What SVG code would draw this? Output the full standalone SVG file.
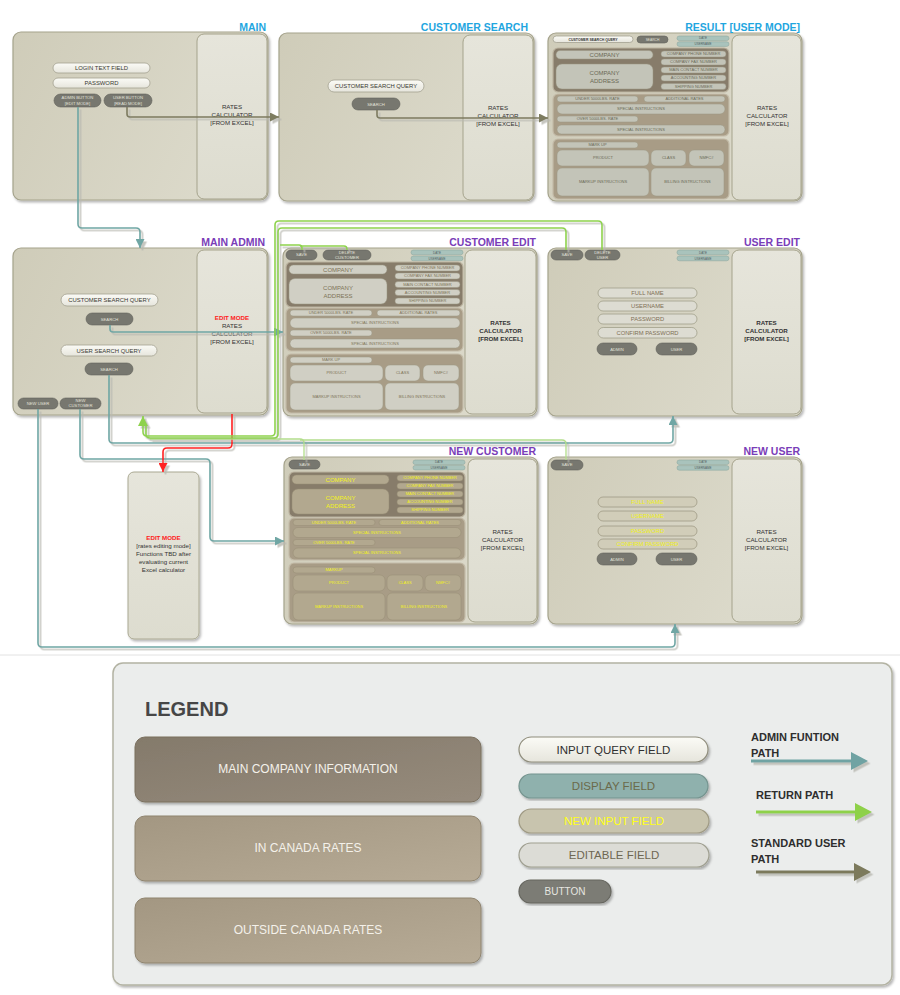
<svg xmlns="http://www.w3.org/2000/svg" width="900" height="995" viewBox="0 0 900 995">
<defs>
<style>
text{font-family:"Liberation Sans",Arial,sans-serif}
.pn{fill:url(#gP);stroke:#a5a38c;stroke-width:1.2;filter:url(#sh)}
.cl{fill:url(#gC);stroke:#a5a38c;stroke-width:1}
.q{fill:url(#gQ);stroke:#a3a190;stroke-width:.8}
.b{fill:#77776f;stroke:#62625a;stroke-width:.6}
.d{fill:#a9c3bc;stroke:#86a39b;stroke-width:.5}
.e{fill:#dddcd2;stroke:#a19f8a;stroke-width:.8}
.s1{fill:#877c6a;stroke:#bcb4a0;stroke-width:1.2}
.s2{fill:#a89c86;stroke:#c4bca9;stroke-width:1.2}
.rf{fill:#c3c4b8;stroke:#9a9782;stroke-width:.5}
.ef{fill:#d0cfc4;stroke:#9a9782;stroke-width:.5}
.nf{fill:#b2a88f;stroke:#978d75;stroke-width:.5}
.nu{fill:#d1cdb9;stroke:#9f9b85;stroke-width:.8}
.tt{font-size:10.5px;font-weight:bold;text-anchor:end}
.cy{fill:#1fa6e0}
.pu{fill:#7a3db8}
.ct{font-size:6.2px;fill:#333;text-anchor:middle}
.ctb{font-size:6.2px;fill:#333;text-anchor:middle;font-weight:bold}
.em{font-size:6.2px;fill:#ff2020;text-anchor:middle;font-weight:bold}
.qt{font-size:5.9px;fill:#3a3a34;text-anchor:middle}
.bt{font-size:4.2px;fill:#e2e2da;text-anchor:middle}
.dt{font-size:3px;fill:#52605c;text-anchor:middle}
.ft{font-size:4px;fill:#6a6955;text-anchor:middle}
.fb{font-size:6px;fill:#6a6955;text-anchor:middle}
.et{font-size:4px;fill:#7d7357;text-anchor:middle}
.eb{font-size:6px;fill:#7d7357;text-anchor:middle}
.nt{font-size:4px;fill:#f2f21a;text-anchor:middle}
.nb{font-size:6px;fill:#f2f21a;text-anchor:middle}
.ut{font-size:5.8px;fill:#7d7055;text-anchor:middle}
.yt{font-size:5.8px;fill:#f0f020;text-anchor:middle}
.cn{fill:none;stroke-width:1.6;stroke-linejoin:round}
.tl{stroke:#6fa6a4}
.ol{stroke:#7d7b60}
.rd{stroke:#ff2424}
.gr{stroke:#8ed24e}
.gl{stroke:#b3dd8c;stroke-width:1.3}
.lb{font-size:12px;fill:#f4f1ea;text-anchor:middle}
.lf{font-size:11.5px;text-anchor:middle}
.la{font-size:11px;font-weight:bold;fill:#2e2e2e}
</style>
<linearGradient id="gP" x1="0" y1="0" x2="1" y2="0.3"><stop offset="0" stop-color="#cfccb9"/><stop offset="1" stop-color="#dcdacb"/></linearGradient>
<linearGradient id="gC" x1="0" y1="0" x2="0" y2="1"><stop offset="0" stop-color="#e6e5db"/><stop offset="1" stop-color="#dddccf"/></linearGradient>
<linearGradient id="gQ" x1="0" y1="0" x2="0" y2="1"><stop offset="0" stop-color="#fbfbf6"/><stop offset="1" stop-color="#e6e5dc"/></linearGradient>
<linearGradient id="gM" x1="0" y1="0" x2="1" y2="1"><stop offset="0" stop-color="#847a6b"/><stop offset="1" stop-color="#968b7c"/></linearGradient>
<linearGradient id="gR" x1="0" y1="0" x2="1" y2="1"><stop offset="0" stop-color="#a39782"/><stop offset="1" stop-color="#b7ab96"/></linearGradient>
<filter id="sh" x="-5%" y="-5%" width="115%" height="115%"><feDropShadow dx="1.5" dy="2" stdDeviation="1.2" flood-color="#000" flood-opacity=".28"/></filter>
<filter id="ls" filterUnits="userSpaceOnUse" x="0" y="0" width="900" height="995"><feDropShadow dx="2.5" dy="2.5" stdDeviation="0.4" flood-color="#b8b8b0" flood-opacity=".8"/></filter>
<marker id="aT" viewBox="0 0 10 10" refX="10" refY="5" markerWidth="10" markerHeight="9" markerUnits="userSpaceOnUse" orient="auto"><path d="M0,0 L10,5 L0,10 z" fill="#6fa6a4"/></marker>
<marker id="aO" viewBox="0 0 10 10" refX="10" refY="5" markerWidth="10" markerHeight="9" markerUnits="userSpaceOnUse" orient="auto"><path d="M0,0 L10,5 L0,10 z" fill="#7d7b60"/></marker>
<marker id="aR" viewBox="0 0 10 10" refX="10" refY="5" markerWidth="10" markerHeight="9" markerUnits="userSpaceOnUse" orient="auto"><path d="M0,0 L10,5 L0,10 z" fill="#ff2424"/></marker>
<marker id="aG" viewBox="0 0 10 10" refX="10" refY="5" markerWidth="11" markerHeight="10" markerUnits="userSpaceOnUse" orient="auto"><path d="M0,0 L10,5 L0,10 z" fill="#8ed24e"/></marker>
</defs>
<rect width="900" height="995" fill="#fff"/>
<line x1="0" y1="655" x2="900" y2="655" stroke="#e2e2e2" stroke-width="1"/>

<g id="main">
<rect class="pn" x="13" y="32" width="255" height="168" rx="8"/>
<rect class="cl" x="197" y="34" width="70" height="165" rx="7"/>
<text class="ct" x="232" y="109">RATES</text>
<text class="ct" x="232" y="117">CALCULATOR</text>
<text class="ct" x="232" y="125">[FROM EXCEL]</text>
<rect class="q" x="53" y="63" width="97" height="10" rx="5"/>
<text class="qt" x="101.5" y="70.1">LOGIN TEXT FIELD</text>
<rect class="q" x="53" y="78" width="97" height="10" rx="5"/>
<text class="qt" x="101.5" y="85.1">PASSWORD</text>
<rect class="b" x="54" y="94" width="47" height="13" rx="6.5"/>
<text class="bt" x="77.5" y="99.3">ADMIN BUTTON</text>
<text class="bt" x="77.5" y="104.5">[EDIT MODE]</text>
<rect class="b" x="104" y="94" width="48" height="13" rx="6.5"/>
<text class="bt" x="128" y="99.3">USER BUTTON</text>
<text class="bt" x="128" y="104.5">[READ MODE]</text>
<text class="tt cy" x="266" y="31">MAIN</text>
</g>

<g id="customer-search">
<rect class="pn" x="279" y="33" width="255" height="168" rx="8"/>
<rect class="cl" x="463" y="35" width="70" height="165" rx="7"/>
<text class="ct" x="498" y="110">RATES</text>
<text class="ct" x="498" y="118">CALCULATOR</text>
<text class="ct" x="498" y="126">[FROM EXCEL]</text>
<rect class="q" x="328" y="80" width="96" height="12" rx="6"/>
<text class="qt" x="376" y="88.1">CUSTOMER SEARCH QUERY</text>
<rect class="b" x="352" y="98" width="48" height="12" rx="6"/>
<text class="bt" x="376" y="105.5">SEARCH</text>
<text class="tt cy" x="528" y="31">CUSTOMER SEARCH</text>
</g>

<g id="result-user-mode">
<rect class="pn" x="548" y="33" width="254" height="168" rx="8"/>
<rect class="cl" x="732" y="35" width="69" height="165" rx="7"/>
<text class="ct" x="767" y="110">RATES</text>
<text class="ct" x="767" y="118">CALCULATOR</text>
<text class="ct" x="767" y="126">[FROM EXCEL]</text>
<rect class="q" x="553" y="36" width="80" height="6.5" rx="3.25"/>
<text x="593" y="40.6" font-size="3.5" fill="#333" text-anchor="middle" font-weight="bold">CUSTOMER SEARCH QUERY</text>
<rect class="b" x="637" y="36" width="31" height="7" rx="3.5"/>
<text x="652.5" y="40.7" font-size="3.3" fill="#e2e2da" text-anchor="middle">SEARCH</text>
<rect class="d" x="677" y="36" width="52" height="4.6" rx="2.3"/>
<text class="dt" x="703" y="39.4">DATE</text>
<rect class="d" x="677" y="41.8" width="52" height="4.6" rx="2.3"/>
<text class="dt" x="703" y="45.2">USERNAME</text>
<rect class="s1" x="553" y="48" width="176" height="44" rx="5"/>
<rect class="rf" x="556" y="50.5" width="97" height="8.5" rx="4.25"/>
<text class="fb" x="604.5" y="56.9">COMPANY</text>
<rect class="rf" x="556" y="64" width="97" height="25" rx="6"/>
<text class="fb" x="604.5" y="74.5">COMPANY</text>
<text class="fb" x="604.5" y="82.5">ADDRESS</text>
<rect class="rf" x="661" y="51" width="65" height="6" rx="3"/>
<text class="ft" x="693.5" y="55.4">COMPANY PHONE NUMBER</text>
<rect class="rf" x="661" y="59" width="65" height="6" rx="3"/>
<text class="ft" x="693.5" y="63.4">COMPANY FAX NUMBER</text>
<rect class="rf" x="661" y="67" width="65" height="6" rx="3"/>
<text class="ft" x="693.5" y="71.4">MAIN CONTACT NUMBER</text>
<rect class="rf" x="661" y="75" width="65" height="6" rx="3"/>
<text class="ft" x="693.5" y="79.4">ACCOUNTING NUMBER</text>
<rect class="rf" x="661" y="83.5" width="65" height="6" rx="3"/>
<text class="ft" x="693.5" y="87.9">SHIPPING NUMBER</text>
<rect class="s2" x="553" y="94" width="176" height="42" rx="5"/>
<rect class="rf" x="557" y="96" width="81" height="6" rx="3"/>
<text class="ft" x="597.5" y="100.4">UNDER 5000LBS. RATE</text>
<rect class="rf" x="644" y="96" width="81" height="6" rx="3"/>
<text class="ft" x="684.5" y="100.4">ADDITIONAL RATES</text>
<rect class="rf" x="557" y="104" width="168" height="10" rx="5"/>
<text class="ft" x="641" y="110.4">SPECIAL INSTRUCTIONS</text>
<rect class="rf" x="557" y="116" width="81" height="6" rx="3"/>
<text class="ft" x="597.5" y="120.4">OVER 5000LBS. RATE</text>
<rect class="rf" x="557" y="125" width="168" height="9" rx="4.5"/>
<text class="ft" x="641" y="130.9">SPECIAL INSTRUCTIONS</text>
<rect class="s2" x="553" y="139" width="176" height="60" rx="5"/>
<rect class="rf" x="557" y="142" width="81" height="6" rx="3"/>
<text class="ft" x="597.5" y="146.4">MARK UP</text>
<rect class="rf" x="557" y="150" width="92" height="16" rx="5"/>
<text class="ft" x="603" y="159.4">PRODUCT</text>
<rect class="rf" x="651" y="150" width="35" height="16" rx="5"/>
<text class="ft" x="668.5" y="159.4">CLASS</text>
<rect class="rf" x="689" y="150" width="35" height="16" rx="5"/>
<text class="ft" x="706.5" y="159.4">NMFC#</text>
<rect class="rf" x="557" y="168" width="92" height="28" rx="5"/>
<text class="ft" x="603" y="183.4">MARKUP INSTRUCTIONS</text>
<rect class="rf" x="651" y="168" width="73" height="28" rx="5"/>
<text class="ft" x="687.5" y="183.4">BILLING INSTRUCTIONS</text>
<text class="tt cy" x="800" y="31">RESULT [USER MODE]</text>
</g>

<g id="main-admin">
<rect class="pn" x="13" y="248" width="255" height="167" rx="8"/>
<rect class="cl" x="197" y="250" width="70" height="163" rx="7"/>
<text class="em" x="232" y="320">EDIT MODE</text>
<text class="ct" x="232" y="328">RATES</text>
<text class="ct" x="232" y="336">CALCULATOR</text>
<text class="ct" x="232" y="344">[FROM EXCEL]</text>
<rect class="q" x="61" y="294" width="97" height="12" rx="6"/>
<text class="qt" x="109.5" y="302.1">CUSTOMER SEARCH QUERY</text>
<rect class="b" x="86" y="313" width="47" height="12" rx="6"/>
<text class="bt" x="109.5" y="320.5">SEARCH</text>
<rect class="q" x="61" y="345" width="96" height="11" rx="5.5"/>
<text class="qt" x="109" y="352.6">USER SEARCH QUERY</text>
<rect class="b" x="85" y="363" width="48" height="12" rx="6"/>
<text class="bt" x="109" y="370.5">SEARCH</text>
<rect class="b" x="18" y="398" width="40" height="11" rx="5.5"/>
<text class="bt" x="38" y="405">NEW USER</text>
<rect class="b" x="60" y="398" width="41" height="11" rx="5.5"/>
<text class="bt" x="80.5" y="402.4">NEW</text>
<text class="bt" x="80.5" y="407.4">CUSTOMER</text>
<text class="tt pu" x="265" y="246">MAIN ADMIN</text>
</g>

<g id="customer-edit">
<rect class="pn" x="283" y="248" width="254" height="168" rx="8"/>
<rect class="cl" x="465" y="250" width="71" height="164" rx="7"/>
<text class="ctb" x="500.5" y="325">RATES</text>
<text class="ctb" x="500.5" y="333">CALCULATOR</text>
<text class="ctb" x="500.5" y="341">[FROM EXCEL]</text>
<rect class="b" x="286" y="250" width="31" height="10" rx="5"/>
<text class="bt" x="301.5" y="256.4">SAVE</text>
<rect class="b" x="323" y="250" width="48" height="10" rx="5"/>
<text class="bt" x="347" y="254.3" font-size="3.8">DELETE</text>
<text class="bt" x="347" y="258.9" font-size="3.8">CUSTOMER</text>
<rect class="d" x="411" y="250" width="52" height="4.8" rx="2.4"/>
<text class="dt" x="437" y="253.5">DATE</text>
<rect class="d" x="411" y="256" width="52" height="4.8" rx="2.4"/>
<text class="dt" x="437" y="259.5">USERNAME</text>
<rect class="s1" x="286" y="262" width="177" height="45" rx="5"/>
<rect class="ef" x="289" y="265" width="98" height="9" rx="4.5"/>
<text class="eb" x="338" y="271.6">COMPANY</text>
<rect class="ef" x="289" y="278.5" width="98" height="25.5" rx="6"/>
<text class="eb" x="338" y="289.5">COMPANY</text>
<text class="eb" x="338" y="297.5">ADDRESS</text>
<rect class="ef" x="395" y="265" width="65" height="6" rx="3"/>
<text class="et" x="427.5" y="269.4">COMPANY PHONE NUMBER</text>
<rect class="ef" x="395" y="273" width="65" height="6" rx="3"/>
<text class="et" x="427.5" y="277.4">COMPANY FAX NUMBER</text>
<rect class="ef" x="395" y="281.5" width="65" height="6" rx="3"/>
<text class="et" x="427.5" y="285.9">MAIN CONTACT NUMBER</text>
<rect class="ef" x="395" y="289.5" width="65" height="6" rx="3"/>
<text class="et" x="427.5" y="293.9">ACCOUNTING NUMBER</text>
<rect class="ef" x="395" y="298" width="65" height="6" rx="3"/>
<text class="et" x="427.5" y="302.4">SHIPPING NUMBER</text>
<rect class="s2" x="286" y="308" width="177" height="43" rx="5"/>
<rect class="ef" x="290" y="310" width="82" height="6" rx="3"/>
<text class="et" x="331" y="314.4">UNDER 5000LBS. RATE</text>
<rect class="ef" x="377" y="310" width="83" height="6" rx="3"/>
<text class="et" x="418.5" y="314.4">ADDITIONAL RATES</text>
<rect class="ef" x="290" y="318" width="170" height="10" rx="5"/>
<text class="et" x="375" y="324.4">SPECIAL INSTRUCTIONS</text>
<rect class="ef" x="290" y="330" width="82" height="6" rx="3"/>
<text class="et" x="331" y="334.4">OVER 5000LBS. RATE</text>
<rect class="ef" x="290" y="339" width="170" height="9" rx="4.5"/>
<text class="et" x="375" y="344.9">SPECIAL INSTRUCTIONS</text>
<rect class="s2" x="286" y="354" width="177" height="59" rx="5"/>
<rect class="ef" x="290" y="357" width="82" height="6" rx="3"/>
<text class="et" x="331" y="361.4">MARK UP</text>
<rect class="ef" x="290" y="365" width="93" height="16" rx="5"/>
<text class="et" x="336.5" y="374.4">PRODUCT</text>
<rect class="ef" x="385" y="365" width="35" height="16" rx="5"/>
<text class="et" x="402.5" y="374.4">CLASS</text>
<rect class="ef" x="423" y="365" width="36" height="16" rx="5"/>
<text class="et" x="441" y="374.4">NMFC#</text>
<rect class="ef" x="290" y="383" width="93" height="27" rx="5"/>
<text class="et" x="336.5" y="397.9">MARKUP INSTRUCTIONS</text>
<rect class="ef" x="385" y="383" width="74" height="27" rx="5"/>
<text class="et" x="422" y="397.9">BILLING INSTRUCTIONS</text>
<text class="tt pu" x="536" y="246">CUSTOMER EDIT</text>
</g>

<g id="user-edit">
<rect class="pn" x="548" y="248" width="254" height="168" rx="8"/>
<rect class="cl" x="732" y="250" width="69" height="164" rx="7"/>
<text class="ctb" x="766.5" y="325">RATES</text>
<text class="ctb" x="766.5" y="333">CALCULATOR</text>
<text class="ctb" x="766.5" y="341">[FROM EXCEL]</text>
<rect class="b" x="551" y="250" width="32" height="10" rx="5"/>
<text class="bt" x="567" y="256.4">SAVE</text>
<rect class="b" x="585" y="250" width="35" height="10" rx="5"/>
<text class="bt" x="602.5" y="254.3" font-size="3.8">DELETE</text>
<text class="bt" x="602.5" y="258.9" font-size="3.8">USER</text>
<rect class="d" x="677" y="250" width="52" height="4.8" rx="2.4"/>
<text class="dt" x="703" y="253.5">DATE</text>
<rect class="d" x="677" y="256" width="52" height="4.8" rx="2.4"/>
<text class="dt" x="703" y="259.5">USERNAME</text>
<rect class="e" x="598" y="288" width="99" height="10" rx="5"/>
<text class="ut" x="647.5" y="295.1">FULL NAME</text>
<rect class="e" x="598" y="301" width="99" height="10" rx="5"/>
<text class="ut" x="647.5" y="308.1">USERNAME</text>
<rect class="e" x="598" y="314" width="99" height="10" rx="5"/>
<text class="ut" x="647.5" y="321.1">PASSWORD</text>
<rect class="e" x="598" y="327.5" width="99" height="10.5" rx="5.25"/>
<text class="ut" x="647.5" y="334.8">CONFIRM PASSWORD</text>
<rect class="b" x="597" y="343" width="40" height="12" rx="6"/>
<text class="bt" x="617" y="350.5">ADMIN</text>
<rect class="b" x="656" y="343" width="41" height="12" rx="6"/>
<text class="bt" x="676.5" y="350.5">USER</text>
<text class="tt pu" x="800" y="246">USER EDIT</text>
</g>

<g id="edit-mode">
<rect x="128" y="472" width="71" height="167" rx="6" fill="url(#gC)" stroke="#aaa892" stroke-width="1" filter="url(#sh)"/>
<text class="em" x="163.5" y="540" font-size="6.5">EDIT MODE</text>
<text class="ct" x="163.5" y="548">[rates editing mode]</text>
<text class="ct" x="163.5" y="556">Functions TBD after</text>
<text class="ct" x="163.5" y="564">evaluating current</text>
<text class="ct" x="163.5" y="572">Excel calculator</text>
</g>

<g id="new-customer">
<rect class="pn" x="284" y="457" width="254" height="167" rx="8"/>
<rect class="cl" x="468" y="459" width="69" height="163" rx="7"/>
<text class="ct" x="502.5" y="534">RATES</text>
<text class="ct" x="502.5" y="542">CALCULATOR</text>
<text class="ct" x="502.5" y="550">[FROM EXCEL]</text>
<rect class="b" x="289" y="460" width="31" height="9" rx="4.5"/>
<text class="bt" x="304.5" y="465.9">SAVE</text>
<rect class="d" x="413" y="460" width="52" height="4.6" rx="2.3"/>
<text class="dt" x="439" y="463.4">DATE</text>
<rect class="d" x="413" y="465.4" width="52" height="4.6" rx="2.3"/>
<text class="dt" x="439" y="468.8">USERNAME</text>
<rect class="s1" x="289" y="472" width="176" height="45" rx="5"/>
<rect class="nf" x="292" y="475" width="97" height="9" rx="4.5"/>
<text class="nb" x="340.5" y="481.6">COMPANY</text>
<rect class="nf" x="292" y="489" width="97" height="25" rx="6"/>
<text class="nb" x="340.5" y="499.5">COMPANY</text>
<text class="nb" x="340.5" y="507.5">ADDRESS</text>
<rect class="nf" x="397" y="475" width="66" height="6" rx="3"/>
<text class="nt" x="430" y="479.4">COMPANY PHONE NUMBER</text>
<rect class="nf" x="397" y="483" width="66" height="6" rx="3"/>
<text class="nt" x="430" y="487.4">COMPANY FAX NUMBER</text>
<rect class="nf" x="397" y="491" width="66" height="6" rx="3"/>
<text class="nt" x="430" y="495.4">MAIN CONTACT NUMBER</text>
<rect class="nf" x="397" y="499" width="66" height="6" rx="3"/>
<text class="nt" x="430" y="503.4">ACCOUNTING NUMBER</text>
<rect class="nf" x="397" y="507" width="66" height="6" rx="3"/>
<text class="nt" x="430" y="511.4">SHIPPING NUMBER</text>
<rect class="s2" x="289" y="518" width="176" height="42" rx="5"/>
<rect class="nf" x="293" y="519.5" width="82" height="6" rx="3"/>
<text class="nt" x="334" y="523.9">UNDER 5000LBS. RATE</text>
<rect class="nf" x="379" y="519.5" width="82" height="6" rx="3"/>
<text class="nt" x="420" y="523.9">ADDITIONAL RATES</text>
<rect class="nf" x="293" y="527.5" width="168" height="10" rx="5"/>
<text class="nt" x="377" y="533.9">SPECIAL INSTRUCTIONS</text>
<rect class="nf" x="293" y="539.5" width="82" height="6" rx="3"/>
<text class="nt" x="334" y="543.9">OVER 5000LBS. RATE</text>
<rect class="nf" x="293" y="548" width="168" height="10" rx="5"/>
<text class="nt" x="377" y="554.4">SPECIAL INSTRUCTIONS</text>
<rect class="s2" x="289" y="563" width="176" height="59" rx="5"/>
<rect class="nf" x="293" y="567" width="82" height="6" rx="3"/>
<text class="nt" x="334" y="571.4">MARKUP</text>
<rect class="nf" x="293" y="575" width="92" height="16" rx="5"/>
<text class="nt" x="339" y="584.4">PRODUCT</text>
<rect class="nf" x="387" y="575" width="36" height="16" rx="5"/>
<text class="nt" x="405" y="584.4">CLASS</text>
<rect class="nf" x="425" y="575" width="36" height="16" rx="5"/>
<text class="nt" x="443" y="584.4">NMFC#</text>
<rect class="nf" x="293" y="593" width="92" height="27" rx="5"/>
<text class="nt" x="339" y="607.9">MARKUP INSTRUCTIONS</text>
<rect class="nf" x="387" y="593" width="74" height="27" rx="5"/>
<text class="nt" x="424" y="607.9">BILLING INSTRUCTIONS</text>
<text class="tt pu" x="536" y="455">NEW CUSTOMER</text>
</g>

<g id="new-user">
<rect class="pn" x="548" y="457" width="254" height="167" rx="8"/>
<rect class="cl" x="732" y="459" width="69" height="163" rx="7"/>
<text class="ct" x="766.5" y="534">RATES</text>
<text class="ct" x="766.5" y="542">CALCULATOR</text>
<text class="ct" x="766.5" y="550">[FROM EXCEL]</text>
<rect class="b" x="551" y="460" width="32" height="10" rx="5"/>
<text class="bt" x="567" y="466.4">SAVE</text>
<rect class="d" x="677" y="460" width="52" height="4.6" rx="2.3"/>
<text class="dt" x="703" y="463.4">DATE</text>
<rect class="d" x="677" y="465.6" width="52" height="4.6" rx="2.3"/>
<text class="dt" x="703" y="469">USERNAME</text>
<rect class="nu" x="598" y="497" width="99" height="10" rx="5"/>
<text class="yt" x="647.5" y="504.1">FULL NAME</text>
<rect class="nu" x="598" y="511" width="99" height="10" rx="5"/>
<text class="yt" x="647.5" y="518.1">USERNAME</text>
<rect class="nu" x="598" y="526" width="99" height="10" rx="5"/>
<text class="yt" x="647.5" y="533.1">PASSWORD</text>
<rect class="nu" x="598" y="539" width="99" height="10" rx="5"/>
<text class="yt" x="647.5" y="546.1">CONFIRM PASSWORD</text>
<rect class="b" x="597" y="553" width="40" height="12" rx="6"/>
<text class="bt" x="617" y="560.5">ADMIN</text>
<rect class="b" x="656" y="553" width="41" height="12" rx="6"/>
<text class="bt" x="676.5" y="560.5">USER</text>
<text class="tt pu" x="800" y="455">NEW USER</text>
</g>

<g id="connectors" filter="url(#ls)">
<path class="cn ol" d="M127,107 V114 Q127,117 130,117 H279" marker-end="url(#aO)"/>
<path class="cn ol" d="M377,110 V115 Q377,118 380,118 H548" marker-end="url(#aO)"/>
<path class="cn tl" d="M78,107 V224 Q78,228 82,228 H136 Q140,228 140,232 V248" marker-end="url(#aT)"/>
<path class="cn tl" d="M110,325 V329 Q110,332 113,332 H283" marker-end="url(#aT)"/>
<path class="cn tl" d="M109,375 V439 Q109,443 113,443 H669 Q673,443 673,439 V416" marker-end="url(#aT)"/>
<path class="cn tl" d="M38,409 V643 Q38,647 42,647 H671 Q675,647 675,643 V624" marker-end="url(#aT)"/>
<path class="cn tl" d="M80,409 V455 Q80,459 84,459 H206 Q210,459 210,463 V537 Q210,541 214,541 H284" marker-end="url(#aT)"/>
<path class="cn rd" d="M232,414 V444 Q232,448 228,448 H167 Q163,448 163,452 V472" marker-end="url(#aR)"/>
<path class="cn gl" d="M566,460 V444 Q566,440 562,440 H300"/>
<path class="cn gl" d="M304,460 V443 Q304,439 300,439 H150"/>
<path class="cn gr" d="M566,250 V232 Q566,228 562,228 H282 Q278,228 278,232 V434 Q278,438 274,438 H150 Q146,438 146,434 V424"/>
<path class="cn gr" d="M302,250 V248 Q302,245 299,245 H280"/>
<path class="cn gr" d="M347,250 V249 Q347,246 344,246 H300"/>
<path class="cn gr" d="M602,250 V225 Q602,221 598,221 H279 Q275,221 275,225 V432 Q275,436 271,436 H147 Q143,436 143,432 V416" marker-end="url(#aG)"/>
</g>

<g id="legend">
<rect x="113" y="663" width="779" height="322" rx="10" fill="#ebedec" stroke="#b3b3a3" stroke-width="1.5" filter="url(#sh)"/>
<text x="145" y="716" font-size="20" font-weight="bold" fill="#464646">LEGEND</text>
<rect x="135" y="737" width="346" height="65" rx="10" fill="url(#gM)" stroke="#7a705f" stroke-width="1" filter="url(#sh)"/>
<text class="lb" x="308" y="773">MAIN COMPANY INFORMATION</text>
<rect x="135" y="816" width="346" height="65" rx="10" fill="url(#gR)" stroke="#8f846f" stroke-width="1" filter="url(#sh)"/>
<text class="lb" x="308" y="852">IN CANADA RATES</text>
<rect x="135" y="898" width="346" height="65" rx="10" fill="url(#gR)" stroke="#8f846f" stroke-width="1" filter="url(#sh)"/>
<text class="lb" x="308" y="934">OUTSIDE CANADA RATES</text>
<rect x="519" y="737" width="189" height="25" rx="12.5" fill="url(#gQ)" stroke="#8f8d7c" stroke-width="1.2" filter="url(#sh)"/>
<text class="lf" x="613.5" y="753.5" fill="#2f2f2f">INPUT QUERY FIELD</text>
<rect x="519" y="774" width="189" height="24" rx="12" fill="#8fb1ad" stroke="#75948f" stroke-width="1.2" filter="url(#sh)"/>
<text class="lf" x="613.5" y="790" fill="#6b6a4a">DISPLAY FIELD</text>
<rect x="519" y="809" width="190" height="24" rx="12" fill="#c8c4ae" stroke="#9f9a84" stroke-width="1.2" filter="url(#sh)"/>
<text class="lf" x="614" y="825" fill="#ffff1a">NEW INPUT FIELD</text>
<rect x="519" y="843" width="190" height="24" rx="12" fill="#dcdcd6" stroke="#9f9f90" stroke-width="1.2" filter="url(#sh)"/>
<text class="lf" x="614" y="859" fill="#6e6753">EDITABLE FIELD</text>
<rect x="519" y="880" width="92" height="23" rx="11.5" fill="#7b7b74" stroke="#66665f" stroke-width="1.2" filter="url(#sh)"/>
<text x="565" y="895" font-size="10" fill="#e6e6e0" text-anchor="middle">BUTTON</text>
<text class="la" x="751" y="741">ADMIN FUNTION</text>
<text class="la" x="751" y="757">PATH</text>
<g filter="url(#ls)">
<line x1="751" y1="761" x2="853" y2="761" stroke="#6fa3a3" stroke-width="3"/>
<polygon points="851,752 868,761 851,770" fill="#6fa3a3"/>
<line x1="756" y1="812" x2="857" y2="812" stroke="#8ed14a" stroke-width="3"/>
<polygon points="855,803 872,812 855,821" fill="#8ed14a"/>
<line x1="756" y1="872" x2="856" y2="872" stroke="#7b7a5c" stroke-width="3"/>
<polygon points="854,863 871,872 854,881" fill="#7b7a5c"/>
</g>
<text class="la" x="756" y="799">RETURN PATH</text>
<text class="la" x="751" y="847">STANDARD USER</text>
<text class="la" x="751" y="863">PATH</text>
</g>
</svg>
